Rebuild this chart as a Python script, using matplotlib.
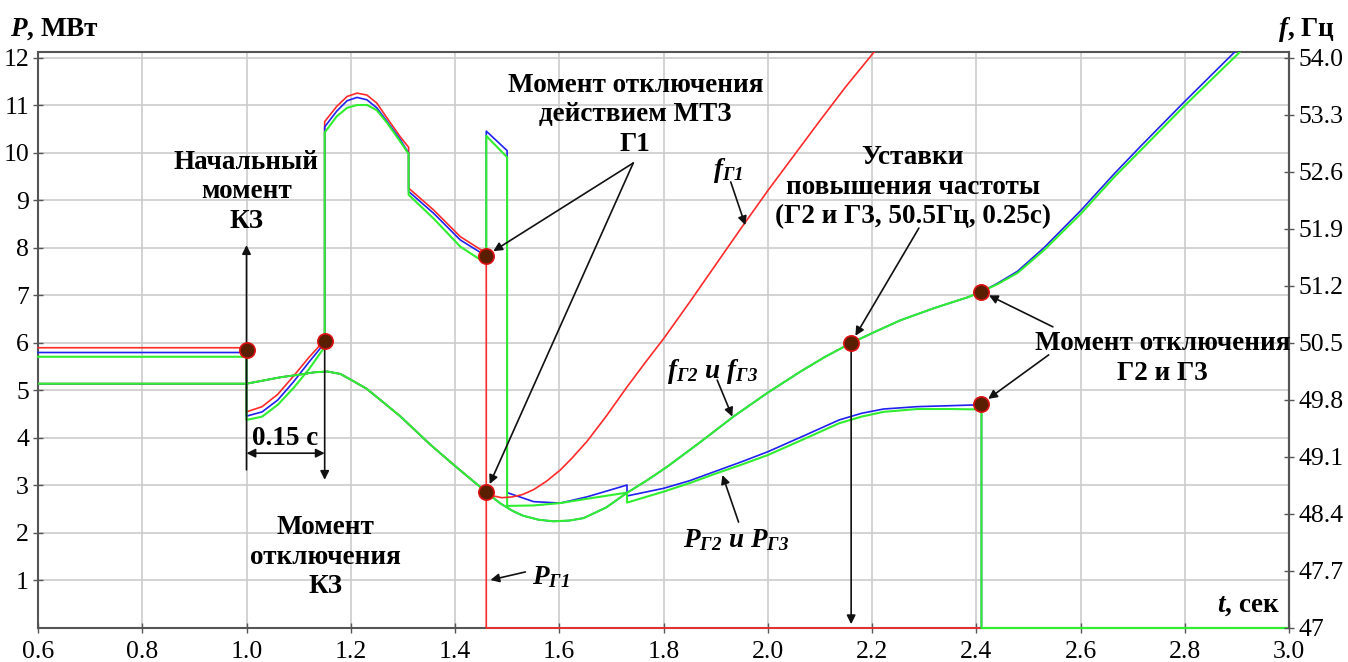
import numpy as np
import matplotlib
matplotlib.use('Agg')
import matplotlib.pyplot as plt

plt.rcParams['font.family'] = 'Liberation Serif'
plt.rcParams['mathtext.fontset'] = 'custom'
plt.rcParams['mathtext.rm'] = 'Liberation Serif:italic:bold'
plt.rcParams['mathtext.it'] = 'Liberation Serif:italic:bold'
plt.rcParams['mathtext.bf'] = 'Liberation Serif:italic:bold'

# ---- активная мощность генераторов, МВт
t_pg1 = [0.6, 1.0, 1.0, 1.03, 1.06, 1.09, 1.12, 1.15, 1.15, 1.173, 1.193, 1.212, 1.231, 1.25,
         1.27, 1.295, 1.311, 1.311, 1.359, 1.41, 1.46, 1.46, 3.0]
p_g1 = [5.90, 5.90, 4.55, 4.66, 4.92, 5.30, 5.70, 6.06, 10.66, 10.98, 11.19, 11.26, 11.22, 11.05,
        10.73, 10.34, 10.12, 9.26, 8.80, 8.24, 7.89, 0.0, 0.0]

t_pg2 = [0.6, 1.0, 1.0, 1.03, 1.06, 1.09, 1.12, 1.15, 1.15, 1.173, 1.193, 1.212, 1.231, 1.25,
         1.27, 1.295, 1.311, 1.311, 1.359, 1.41, 1.46, 1.46, 1.50, 1.50, 1.551, 1.602, 1.653,
         1.73, 1.73, 1.80, 1.85, 1.90, 1.95, 2.0, 2.07, 2.137, 2.18, 2.222, 2.287, 2.35, 2.41,
         2.41, 3.0]
p_g2 = [5.80, 5.80, 4.46, 4.55, 4.80, 5.18, 5.60, 6.00, 10.55, 10.88, 11.10, 11.17, 11.12, 10.95,
        10.66, 10.28, 10.00, 9.19, 8.73, 8.17, 7.83, 10.46, 10.05, 2.85, 2.66, 2.63, 2.76,
        3.01, 2.78, 2.94, 3.10, 3.30, 3.50, 3.71, 4.05, 4.38, 4.52, 4.61, 4.66, 4.68, 4.70,
        0.0, 0.0]

t_pg3 = [0.6, 1.0, 1.0, 1.03, 1.06, 1.09, 1.12, 1.15, 1.15, 1.173, 1.193, 1.212, 1.231, 1.25,
         1.27, 1.295, 1.311, 1.311, 1.359, 1.41, 1.449, 1.46, 1.46, 1.50, 1.50, 1.551, 1.602,
         1.653, 1.73, 1.73, 1.80, 1.85, 1.90, 1.95, 2.0, 2.07, 2.137, 2.18, 2.222, 2.287, 2.35,
         2.41, 2.41, 3.0]
p_g3 = [5.71, 5.71, 4.38, 4.45, 4.70, 5.05, 5.45, 5.92, 10.43, 10.77, 10.95, 11.01, 11.01, 10.90,
        10.63, 10.24, 9.98, 9.12, 8.62, 8.03, 7.75, 7.72, 10.36, 9.91, 2.57, 2.58, 2.63,
        2.72, 2.85, 2.64, 2.87, 3.05, 3.25, 3.44, 3.64, 3.98, 4.31, 4.45, 4.55, 4.61, 4.61,
        4.60, 0.0, 0.0]

# ---- частота, Гц (общая до отключения Г1)
t_fc = [0.6, 1.0, 1.033, 1.066, 1.10, 1.13, 1.155, 1.18, 1.20, 1.23, 1.257, 1.295, 1.353,
        1.40, 1.43, 1.46]
f_c = [50.0, 50.0, 50.04, 50.08, 50.11, 50.14, 50.15, 50.12, 50.05, 49.94, 49.80, 49.60, 49.25,
       48.99, 48.83, 48.67]

t_f1_post = [1.475, 1.49, 1.51, 1.53, 1.551, 1.575, 1.602, 1.625, 1.653, 1.69, 1.73, 1.765,
             1.801, 1.85, 1.90, 1.95, 2.0, 2.05, 2.10, 2.15, 2.21]
f_g1_post = [48.62, 48.60, 48.61, 48.64, 48.70, 48.80, 48.94, 49.09, 49.29, 49.60, 49.96, 50.26,
             50.56, 51.00, 51.46, 51.92, 52.37, 52.80, 53.23, 53.65, 54.12]

t_f23_mid = [1.475, 1.487, 1.51, 1.53, 1.56, 1.589, 1.62, 1.647, 1.69, 1.73, 1.77, 1.807, 1.87,
             1.935, 2.0, 2.063, 2.11, 2.16, 2.21, 2.255, 2.32, 2.383, 2.41]
f_g23_mid = [48.59, 48.53, 48.44, 48.38, 48.33, 48.31, 48.32, 48.35, 48.48, 48.66, 48.82, 48.98,
             49.28, 49.60, 49.89, 50.15, 50.33, 50.50, 50.65, 50.78, 50.93, 51.06, 51.13]

t_f2_post = [2.44, 2.479, 2.53, 2.601, 2.665, 2.716, 2.799, 2.90]
f_g2_post = [51.23, 51.38, 51.67, 52.13, 52.58, 52.92, 53.46, 54.10]
t_f3_post = [2.44, 2.479, 2.53, 2.601, 2.665, 2.716, 2.799, 2.91]
f_g3_post = [51.22, 51.36, 51.64, 52.09, 52.54, 52.87, 53.41, 54.10]

# ---- характерные точки
mk_p_t = [1.0, 1.15, 1.46, 2.41]
mk_p_val = [5.85, 6.04, 7.84, 4.72]
mk_f_t = [1.46, 2.16, 2.41]
mk_f_val = [48.67, 50.50, 51.13]

x_ticks = [0.6, 0.8, 1.0, 1.2, 1.4, 1.6, 1.8, 2.0, 2.2, 2.4, 2.6, 2.8, 3.0]
p_ticks = [1, 2, 3, 4, 5, 6, 7, 8, 9, 10, 11, 12]
f_ticks = [47, 47.7, 48.4, 49.1, 49.8, 50.5, 51.2, 51.9, 52.6, 53.3, 54.0]
f_tick_labels = ['47', '47.7', '48.4', '49.1', '49.8', '50.5', '51.2', '51.9', '52.6', '53.3', '54.0']

RED = '#ff2a2a'
BLUE = '#2020f0'
GREEN = '#30ee30'
SPINE = '#555555'
FS = 19.5

f_g1 = f_c + f_g1_post
f_g2 = f_c + f_g23_mid + f_g2_post
f_g3 = f_c + f_g23_mid + f_g3_post
t_f1 = t_fc + t_f1_post
t_f2 = t_fc + t_f23_mid + t_f2_post
t_f3 = t_fc + t_f23_mid + t_f3_post

fig = plt.figure(figsize=(13.48, 6.62), dpi=100)
ax = fig.add_axes([38 / 1348, 34 / 662, 1251 / 1348, 576 / 662])
ax2 = ax.twinx()

P_TOP = 12.126
ax.plot(t_pg1, p_g1, color=RED, lw=1.2, clip_on=False, zorder=3)
ax.plot(t_pg2, p_g2, color=BLUE, lw=1.2, clip_on=False, zorder=3)
ax.plot(t_pg3, p_g3, color=GREEN, lw=1.5, clip_on=False, zorder=3)

ax2.plot(t_f1, f_g1, color=RED, lw=1.2)
ax2.plot(t_f2, f_g2, color=BLUE, lw=1.2)
ax2.plot(t_f3, f_g3, color=GREEN, lw=1.5)

ax.set_xlim(0.6, 3.0)
ax.set_ylim(0, P_TOP)

ax.set_xticks(x_ticks)
ax.set_xticklabels(['%.1f' % v for v in x_ticks])
ax.set_yticks(p_ticks)
ax2.set_yticks(f_ticks)
ax2.set_yticklabels(f_tick_labels)

ax.grid(True, color='#cccccc', lw=1.2)
ax.set_axisbelow(True)
for a in (ax, ax2):
    a.tick_params(direction='inout', length=7, width=1, color=SPINE, labelsize=18.5, pad=3)
    for s in a.spines.values():
        s.set_color(SPINE)
        s.set_linewidth(1.5)
for side in ('left', 'bottom', 'top'):
    ax2.spines[side].set_visible(False)
ax.tick_params(axis='x', pad=6)

# маркеры
mk = dict(ls='none', marker='o', ms=11, mfc='#5a1e00', mec='#dd1111', mew=1.2, zorder=6, clip_on=False)
ax2.plot(mk_p_t, mk_p_val, transform=ax.transData, **mk)
ax2.plot(mk_f_t, mk_f_val, **mk)
ax2.set_ylim(47, 47 + P_TOP * 7 / 12)


def note(txt, xy, xytext, style='-|>', shrink=0, **kw):
    ax2.annotate(txt, xy=xy, xytext=xytext, xycoords=ax.transData, textcoords=ax.transData,
                 arrowprops=dict(arrowstyle=style, color='#111111', lw=1.2, mutation_scale=13,
                                 shrinkA=0, shrinkB=shrink), zorder=5, **kw)


def label(x, y, txt, **kw):
    ax2.text(x, y, txt, transform=ax.transData, fontsize=FS, fontweight='bold',
             ha='center', va='center', linespacing=1.25, zorder=7, **kw)


# КЗ
note('', (1.0, 8.06), (1.0, 3.33))
label(1.0, 9.18, 'Начальный\nмомент\nКЗ')
note('', (1.15, 3.12), (1.15, 6.04))
note('', (1.0, 3.68), (1.15, 3.68), style='<|-|>')
label(1.075, 3.99, '0.15 с')
label(1.151, 1.49, 'Момент\nотключения\nКЗ')

# МТЗ Г1
label(1.746, 10.80, 'Момент отключения\nдействием МТЗ\nГ1')
note('', (1.46, 7.84), (1.742, 9.79), shrink=6)
note('', (1.46, 2.87), (1.742, 9.79), shrink=6)

label(1.923, 9.64, r'$f_{Г1}$')
note('', (1.957, 8.48), (1.929, 9.39))

label(2.278, 9.28, 'Уставки\nповышения частоты\n(Г2 и Г3, 50.5Гц, 0.25с)')
note('', (2.16, 6.0), (2.290, 8.42), shrink=6)
note('', (2.16, 0.08), (2.16, 6.0))

label(1.894, 5.39, r'$f_{Г2}\ и\ f_{Г3}$')
note('', (1.932, 4.45), (1.903, 5.22))
label(1.940, 1.85, r'$P_{Г2}\ и\ P_{Г3}$')
note('', (1.913, 3.22), (1.944, 2.23))

label(2.758, 5.68, 'Момент отключения\nГ2 и Г3')
note('', (2.41, (51.13 - 47) * 12 / 7), (2.547, 6.34), shrink=6)
note('', (2.41, 4.72), (2.539, 5.75), shrink=6)

label(1.583, 1.07, r'$P_{Г1}$')
note('', (1.468, 1.01), (1.535, 1.18))

fig.text(10 / 1348, 1 - 29 / 662, r'$P$, МВт', fontsize=FS, fontweight='bold', ha='left', va='center')
fig.text(1335 / 1348, 1 - 29 / 662, r'$f$, Гц', fontsize=FS, fontweight='bold', ha='right', va='center')
fig.text(1280 / 1348, 1 - 606 / 662, r'$t$, сек', fontsize=FS, fontweight='bold', ha='right', va='center')

fig.savefig('out.png', dpi=100)
